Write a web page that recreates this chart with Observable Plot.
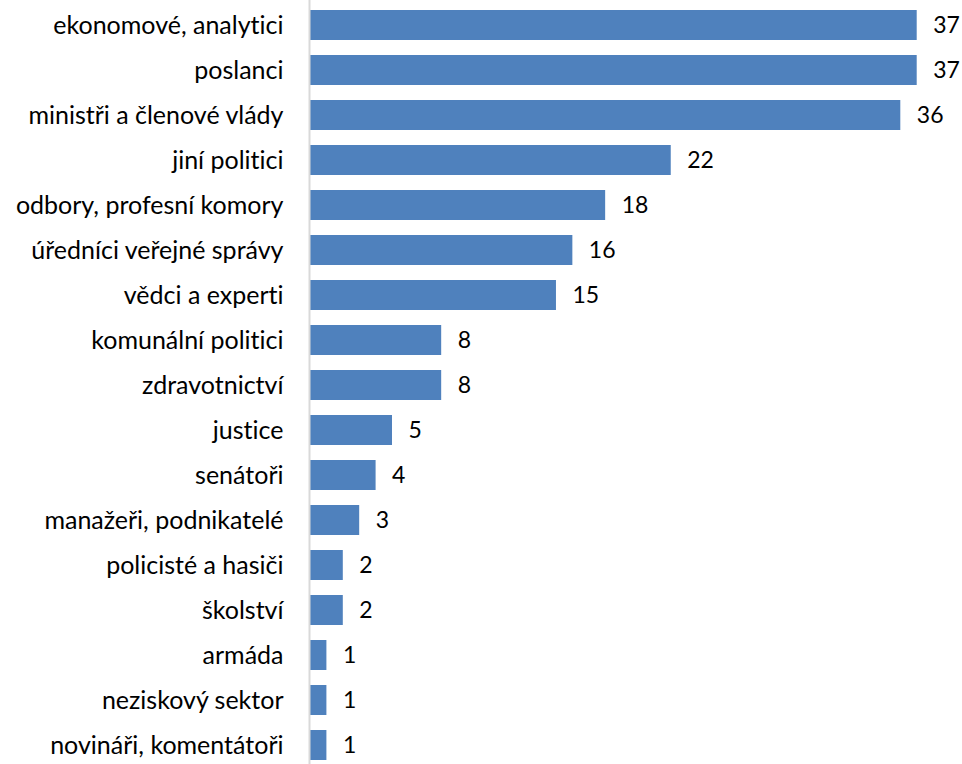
<!DOCTYPE html>
<html>
<head>
<meta charset="utf-8">
<script src="https://cdn.jsdelivr.net/npm/d3@7"></script>
<script src="https://cdn.jsdelivr.net/npm/@observablehq/plot@0.6"></script>
<style>
  html, body { margin: 0; padding: 0; background: #fff; }
  #chart svg { display: block; }
  #chart svg text { font-variant-ligatures: none; font-feature-settings: "liga" 0, "clig" 0; }
</style>
</head>
<body>
<div id="chart"></div>
<script>
const categories = [
  "ekonomové, analytici",
  "poslanci",
  "ministři a členové vlády",
  "jiní politici",
  "odbory, profesní komory",
  "úředníci veřejné správy",
  "vědci a experti",
  "komunální politici",
  "zdravotnictví",
  "justice",
  "senátoři",
  "manažeři, podnikatelé",
  "policisté a hasiči",
  "školství",
  "armáda",
  "neziskový sektor",
  "novináři, komentátoři"
];
const values = [37, 37, 36, 22, 18, 16, 15, 8, 8, 5, 4, 3, 2, 2, 1, 1, 1];

const data = categories.map((c, i) => ({category: c, value: values[i]}));

const chart = Plot.plot({
  width: 962,
  height: 764,
  marginTop: 0,
  marginBottom: 0,
  marginLeft: 310,
  marginRight: 45,
  style: {fontFamily: "Lato, sans-serif", fontSize: "23px", color: "#000", background: "#fff"},
  x: {domain: [0, 37], range: [310, 916.7], axis: null},
  y: {domain: categories, range: [9, 761], padding: 0.33, paddingOuter: 0, label: null},
  marks: [
    Plot.barX(data, {y: "category", x: "value", fill: "#4F81BD"}),
    Plot.ruleX([0], {stroke: "#d9d9d9", strokeWidth: 2, dx: -1}),
    Plot.text(data, {y: "category", x: "value", text: d => String(d.value), textAnchor: "start", dx: 16, fill: "#000", fontSize: 23}),
    Plot.axisY({tickSize: 0, tickPadding: 27, fontSize: 25, fill: "#000", label: null})
  ]
});
document.getElementById("chart").appendChild(chart);
</script>
</body>
</html>
